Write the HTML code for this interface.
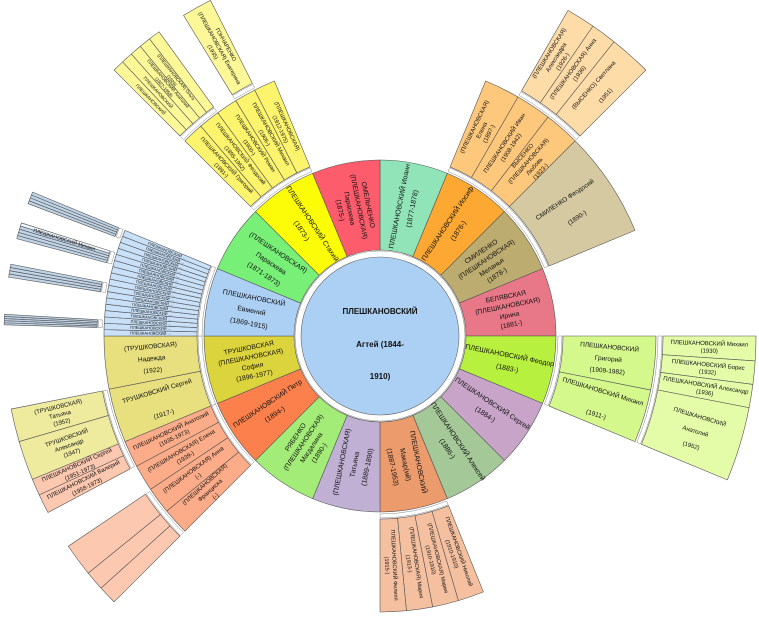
<!DOCTYPE html>
<html><head><meta charset="utf-8">
<style>
html,body{margin:0;padding:0;background:#fff;}
svg{display:block;}
text{font-family:"Liberation Sans",sans-serif;fill:#111;}
</style></head>
<body>
<svg id="s" width="759" height="621" viewBox="0 0 759 621" xmlns="http://www.w3.org/2000/svg"></svg>
<script>
var CX=380,CY=336,NS="http://www.w3.org/2000/svg",S=document.getElementById('s');
function P(r,a){a=a*Math.PI/180;return [CX+r*Math.sin(a),CY-r*Math.cos(a)];}
function el(n,at,parent){var e=document.createElementNS(NS,n);for(var k in at)e.setAttribute(k,at[k]);(parent||S).appendChild(e);return e;}
function sector(r0,r1,a0,a1,fill,stroke,sw){
  var p1=P(r1,a0),p2=P(r1,a1),p3=P(r0,a1),p4=P(r0,a0),lg=(a1-a0)>180?1:0;
  var d="M"+p1+" A"+r1+","+r1+" 0 "+lg+" 1 "+p2+" L"+p3+" A"+r0+","+r0+" 0 "+lg+" 0 "+p4+"Z";
  el('path',{d:d,fill:fill,stroke:stroke||'#555','stroke-width':sw||0.6});
}
function label(lines,a,r,size,gap,bold){
  var p=P(r,a);var m=((a%360)+360)%360;var rot=m<180?m-90:m-270;
  var g=el('g',{transform:"translate("+p[0].toFixed(1)+","+p[1].toFixed(1)+") rotate("+rot.toFixed(1)+")"});
  var n=lines.length;
  for(var i=0;i<n;i++){
    var t=el('text',{x:0,y:((i-(n-1)/2)*gap+size*0.35).toFixed(1),'font-size':size,'text-anchor':'middle','font-weight':bold?'bold':'normal'},g);
    t.textContent=lines[i];
  }
}
function gapArc(r0,r1,a0,a1){sector(r0,r1,a0,a1,'#fff','#888',0.5);}
function group(r0,r1,bounds,color,labels,size,gap){
  gapArc(r0-5,r0-1,bounds[0],bounds[bounds.length-1]);
  for(var i=0;i<bounds.length-1;i++){
    sector(r0,r1,bounds[i],bounds[i+1],Array.isArray(color)?color[i]:color);
  }
  for(var i=0;i<bounds.length-1;i++){
    if(labels&&labels[i])label(labels[i],(bounds[i]+bounds[i+1])/2,(r0+r1)/2,size||6,gap||8);
  }
}
function eq(a0,a1,n){var b=[];for(var i=0;i<=n;i++)b.push(a0+(a1-a0)*i/n);return b;}

el('circle',{cx:CX,cy:CY,r:85,fill:'#fff',stroke:'#888','stroke-width':0.6});
el('circle',{cx:CX,cy:CY,r:79,fill:'#acd0f4',stroke:'#666','stroke-width':0.6});
var t;
t=el('text',{x:CX,y:314,'font-size':8,'text-anchor':'middle','font-weight':'bold'});t.textContent="ПЛЕШКАНОВСКИЙ";
t=el('text',{x:CX,y:347,'font-size':8,'text-anchor':'middle','font-weight':'bold'});t.textContent="Агтей  (1844-";
t=el('text',{x:CX,y:379,'font-size':8,'text-anchor':'middle','font-weight':'bold'});t.textContent="1910)";

var R1=[
 ['#90e4b8',["ПЛЕШКАНОВСКИЙ Иоанн","(1877-1878)"]],
 ['#fca832',["ПЛЕШКАНОВСКИЙ Иосиф","(1876-)"]],
 ['#bcac70',["СМИЛЕНКО","(ПЛЕШКАНОВСКАЯ)","Меланья","(1878-)"]],
 ['#e87888',["БЕЛЯВСКАЯ","(ПЛЕШКАНОВСКАЯ)","Ирина","(1881-)"]],
 ['#b8f040',["ПЛЕШКАНОВСКИЙ Феодор","(1883-)"]],
 ['#c8a4c8',["ПЛЕШКАНОВСКИЙ Сергей","(1884-)"]],
 ['#a4c898',["ПЛЕШКАНОВСКИЙ Алексей","(1886-)"]],
 ['#ec9c6c',["ПЛЕШКАНОВСКИЙ","Макар(ий)","(1887-1953)"]],
 ['#c0b0d4',["(ПЛЕШКАНОВСКАЯ)","Татьяна","(1889-1890)"]],
 ['#a4ec78',["РЯБЕНКО","(ПЛЕШКАНОВСКАЯ)","Магдалина","(1890-)"]],
 ['#fc804c',["ПЛЕШКАНОВСКИЙ Петр","(1894-)"]],
 ['#dcd43c',["ТРУШКОВСКАЯ","(ПЛЕШКАНОВСКАЯ)","София","(1896-1977)"]],
 ['#acd0f4',["ПЛЕШКАНОВСКИЙ","Евмений","(1869-1915)"]],
 ['#78f078',["(ПЛЕШКАНОВСКАЯ)","Параскева","(1871-1873)"]],
 ['#fcfc08',["ПЛЕШКАНОВСКИЙ Стахий","(1873-)"]],
 ['#fc5c6c',["ОМЕЛЬЧЕНКО","(ПЛЕШКАНОВСКАЯ)","Параскева","(1875-)"]]
];
for(var i=0;i<16;i++){sector(86,176,i*22.5,(i+1)*22.5,R1[i][0]);}
for(var i=0;i<16;i++){var l=R1[i][1];label(l,i*22.5+11.25,131,l.length>3?6.8:7,l.length>3?9.5:13);}

var A=183,B=276,C=283,D=376;
group(A,B,[22.5,30,37.5,45],'#fec87c',[["(ПЛЕШКАНОВСКАЯ)","Елена","(1897-)"],["ПЛЕШКАНОВСКИЙ Иван","(1908-1942)"],["ВЫСЕНКО","(ПЛЕШКАНОВСКАЯ)","Любовь","(1923-)"]],6,8);
group(A,B,[45,67.5],'#d4c9a0',[["СМИЛЕНКО Феодосий","","(1890-)"]],6.5,11);
group(C,D,[30,34.5,38.5,45],'#fedca8',[["(ПЛЕШКАНОВСКАЯ)","Александра","(1926-)"],["(ПЛЕШКАНОВСКАЯ) Анна","(1936)"],["(ВЫСЕНКО) Светлана","","(1951)"]],6,8);
group(A,B,[90,101.3,112.5],'#d4f88c',[["ПЛЕШКАНОВСКИЙ","Григорий","(1909-1982)"],["ПЛЕШКАНОВСКИЙ Михаил","","(1911-)"]],6.5,12);
group(C,D,[90,93.8,97.4,101,112.5],'#e4fca8',[["ПЛЕШКАНОВСКИЙ Михаил","(1930)"],["ПЛЕШКАНОВСКИЙ Борис","(1932)"],["ПЛЕШКАНОВСКИЙ Александр","(1936)"],["ПЛЕШКАНОВСКИЙ","","Анатолий","","(1952)"]],6,7.5);
group(A,B,eq(158,180,4),'#f4c0a0',[["ПЛЕШКАНОВСКИЙ Николай","(1910-1910)"],["(ПЛЕШКАНОВСКАЯ) Мария","(1910-1910)"],["(ПЛЕШКАНОВСКАЯ) Мария","(1913-)"],["ПЛЕШКАНОВСКИЙ Филипп","(1915-)"]],5.5,7.5);
group(A,B,[247.5,258.9,270],'#e8e07e',[["ТРУШКОВСКИЙ Сергей","","(1917-)"],["(ТРУШКОВСКАЯ)","Надежда","(1922)"]],6.5,12);
group(C,D,[242,245,247.6,253.7,258.8],['#fcc8b0','#fcc8b0','#eeea9e','#eeea9e'],[["ПЛЕШКАНОВСКИЙ Валерий","(1958-1973)"],["ПЛЕШКАНОВСКИЙ Сергей","(1951-1973)"],["ТРУШКОВСКИЙ","Александр","(1947)"],["(ТРУШКОВСКАЯ)","Татьяна","(1952)"]],6,8);
group(A,B,eq(225,247.5,4),'#fcac88',[["(ПЛЕШКАНОВСКАЯ)","Франциска","(-)"],["(ПЛЕШКАНОВСКАЯ) Анна","(-)"],["(ПЛЕШКАНОВСКАЯ) Елена","(1939-)"],["ПЛЕШКАНОВСКИЙ Анатолий","(1935-1973)"]],6,8);
group(C,D,[225,227.9,230.9,236],'#fcc8b0',null);
var bl=eq(270,292.5,17),lb=[];
for(var i=0;i<17;i++)lb.push(["ПЛЕШКАНОВСКИЙ ..."]);
group(A,B,bl,'#c8e0f8',lb,4,5);
[[271.7,273.3,5],[279,281,4],[285,287.5,5],[290.6,292.5,4]].forEach(function(b,j){
  group(C,D,eq(b[0],b[1],b[2]),j==2?['#c0d4e8','#c0d4e8','#c0d4e8','#c0d4e8','#eef4fc']:'#c0d4e8',null);
});
label(["ПЛЕШКАНОВСКИЙ Михаил"],287,330,5,6);
group(A,B,eq(315,337.5,5),'#fcf46c',[["ПЛЕШКАНОВСКИЙ Григорий","(1891-)"],["ПЛЕШКАНОВСКИЙ Феодосий","(1895-1962)"],["ПЛЕШКАНОВСКИЙ Роман","(1900-)"],["ПЛЕШКАНОВСКИЙ Михаил","(1906-)"],["(ПЛЕШКАНОВСКАЯ)","(1912-1975)"]],5.5,7.5);
group(C,D,eq(315,324,5),'#fcf898',[["ПЛЕШКАНОВСКИЙ"],["ПЛЕШКАНОВСКИЙ"],["ПЛЕШКАНОВСКИЙ Анатолий","(1927-1958)"],["(ПЛЕШКАНОВСКАЯ) Ольга","(1926)"],[""]],4.5,5.5);
group(C,D,[328.5,333.2],'#fcf898',[["ГОНЧАРЕНКО","(ПЛЕШКАНОВСКАЯ) Екатерина","(1935)"]],5.5,7.5);
</script>
</body></html>
